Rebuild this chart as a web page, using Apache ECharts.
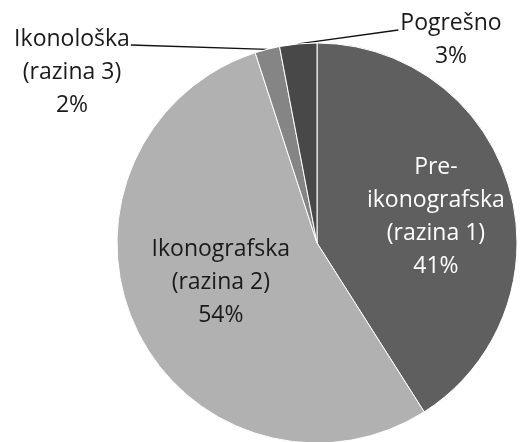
<!DOCTYPE html>
<html>
<head>
<meta charset="utf-8">
<script src="https://cdn.jsdelivr.net/npm/echarts@6/dist/echarts.min.js"></script>
<style>
  html, body { margin: 0; padding: 0; background: #fff; }
  #chart { width: 521px; height: 442px; }
</style>
</head>
<body>
<div id="chart"></div>
<script>
const categories = ["Pre-\nikonografska\n(razina 1)", "Ikonografska\n(razina 2)", "Ikonološka\n(razina 3)", "Pogrešno"];
const values = [41, 54, 2, 3];
const colors = ["#5f5f5f", "#b1b1b1", "#858585", "#484848"];
const labelColors = ["#ffffff", "#1a1a1a", "#1a1a1a", "#1a1a1a"];

const FONT = "Open Sans";
const LINE_H = 33;

// outside labels (Excel style, placed to the upper left / upper right)
const outsideSpots = {
  2: { x: 72, y: 72, side: "right", lineY: 45 },
  3: { x: 451, y: 40, side: "left", lineY: 30 },
};

const chart = echarts.init(document.getElementById("chart"));

chart.setOption({
  animation: false,
  series: [
    {
      type: "pie",
      center: [317, 243],
      radius: 200,
      startAngle: 90,
      clockwise: true,
      data: categories.map((name, i) => ({
        name,
        value: values[i],
        itemStyle: { color: colors[i] },
        label: {
          position: i < 2 ? "inside" : "outside",
          color: labelColors[i],
        },
        labelLine: { show: i >= 2, length: 10, length2: 0 },
      })),
      itemStyle: { borderColor: "#ffffff", borderWidth: 1 },
      label: {
        formatter: (p) => `${p.name}\n${p.value}%`,
        fontFamily: FONT,
        fontSize: 23,
        lineHeight: LINE_H,
        align: "center",
      },
      labelLine: {
        lineStyle: { color: "#111", width: 1.3 },
        smooth: false,
      },
      labelLayout: (params) => {
        const spot = outsideSpots[params.dataIndex];
        if (spot) {
          const pts = params.labelLinePoints;
          const edge = pts ? pts[0] : [317, 45];
          const r = params.labelRect;
          const left = spot.x - r.width / 2;
          const endX = spot.side === "right" ? left + r.width + 1 : left - 2;
          return {
            x: spot.x,
            y: spot.y,
            align: "center",
            verticalAlign: "middle",
            labelLinePoints: [edge, edge, [endX, spot.lineY]],
          };
        }
        if (params.dataIndex === 0) {
          return { dx: 20, dy: 3 };
        }
        return { dx: -3, dy: -4 };
      },
    },
  ],
});
</script>
</body>
</html>
